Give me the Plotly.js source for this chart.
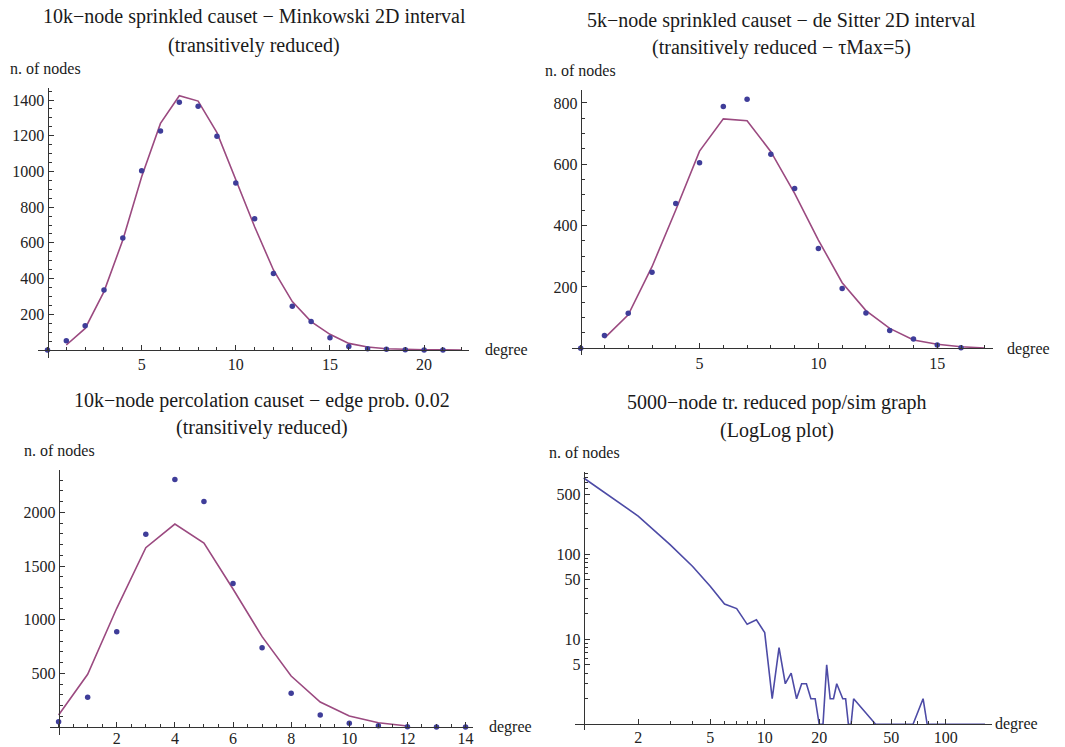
<!DOCTYPE html>
<html>
<head>
<meta charset="utf-8">
<script src="https://cdn.plot.ly/plotly-3.0.1.min.js"></script>
<style>html,body{margin:0;padding:0;background:#fff;}#chart{width:1065px;height:747px;}</style>
</head>
<body>
<div id="chart"></div>
<script>
// ---------- data ----------
const minkDegree = [0,1,2,3,4,5,6,7,8,9,10,11,12,13,14,15,16,17,18,19,20,21];
const minkNodes  = [0,52,136,336,627,1004,1226,1387,1365,1197,935,735,429,245,160,69,19,7,4,1,0,0];
const minkFitDegree = [1,2,3,4,5,6,7,8,9,10,11,12,13,14,15,16,17,18,19,20,21,22];
const minkFit = [28,121,327,616,970,1269,1424,1394,1217,952,690,448,271,159,88,37,17,7,3,1,0.5,0.2];

const desitDegree = [0,1,2,3,4,5,6,7,8,9,10,11,12,13,14,15,16];
const desitNodes  = [0,42,114,248,472,605,788,812,633,521,325,195,115,58,30,11,2];
const desitFitDegree = [1,2,3,4,5,6,7,8,9,10,11,12,13,14,15,16,17];
const desitFit = [33,109,266,451,643,748,742,641,505,353,214,123,65,27,13,5,1];

const percDegree = [0,1,2,3,4,5,6,7,8,9,10,11,12,13,14];
const percNodes  = [50,276,888,1795,2307,2102,1338,739,314,112,34,12,3,1,0];
const percFitDegree = [0,1,2,3,4,5,6,7,8,9,10,11,12];
const percFit = [112,491,1106,1671,1891,1714,1286,842,475,233,102,40,9];

const popDegree = [1,2,3,4,5,6,7,8,9,10,11,12,13,14,15,16,17,18,19,20,21,22,23,24,25,27,28,29,30,31,41,66,75,79,165];
const popNodes  = [790,282,130,72,42,26,23,15,17,12,2,8,3,4,2,3,3,2,2,1,1,5,2,2,3,2,2,1,1,2,1,1,2,1,1];

const titles = [
  ["10k\u2212node sprinkled causet \u2212 Minkowski 2D interval", "(transitively reduced)"],
  ["5k\u2212node sprinkled causet \u2212 de Sitter 2D interval", "(transitively reduced \u2212 \u03c4Max=5)"],
  ["10k\u2212node percolation causet \u2212 edge prob. 0.02", "(transitively reduced)"],
  ["5000\u2212node tr. reduced pop/sim graph", "(LogLog plot)"]
];
const yLabel = "n. of nodes";
const xLabel = "degree";

// ---------- layout helpers ----------
const W = 1065, H = 747;
const FONT = "Liberation Serif, Times New Roman, serif";
const DOT = "#3f3d99", FIT = "#9b4a80", AX = "#333333";

function seq(a, b, s) { const r = []; for (let v = a; v <= b + 1e-9; v += s) r.push(+v.toFixed(6)); return r; }

const panels = [
  {ox:47.5, oy:350, sx:18.83, sy:250/1400, xr:[-0.5,22.4], yr:[-45,1470],
   xt:[5,10,15,20], xm:seq(0,22,1), yt:seq(200,1400,200), ym:seq(0,1450,50), type:'linear',
   t1:[254,17], t2:[254,45.5], yl:[8,68], xl:[483,350], xso:0},
  {ox:580.7, oy:348.3, sx:23.77, sy:0.3067, xr:[-0.37,17.35], yr:[-22,842],
   xt:[5,10,15], xm:seq(0,17,1), yt:[200,400,600,800], ym:seq(0,800,50), type:'linear',
   t1:[781.7,20], t2:[781.7,47.5], yl:[543,71], xl:[1005,349], xso:0},
  {ox:58.6, oy:727, sx:29.07, sy:0.10733, xr:[-0.3,14.27], yr:[-75,2394],
   xt:[2,4,6,8,10,12,14], xm:seq(0,14,0.5), yt:[500,1000,1500,2000], ym:seq(0,2300,100), type:'linear',
   t1:[262,400], t2:[262,427], yl:[22,451], xl:[487,727], xso:-3},
  {ox:583.7, oy:724.3, sx:181, sy:85, xr:[-0.048,2.254], yr:[-0.067,2.97],
   xt:[2,5,10,20,50,100], xm:[3,4,6,7,8,9,30,40,60,70,80,90],
   yt:[5,10,50,100,500], ym:[2,3,4,6,7,8,9,20,30,40,60,70,80,90,200,300,400,600,700,800,900], type:'log',
   t1:[777,402.5], t2:[777,430], yl:[547,452.5], xl:[993,724], xso:-2}
];

const layout = {
  width: W, height: H, autosize: false,
  margin: {l:0, r:0, t:0, b:0, pad:0},
  paper_bgcolor: '#ffffff', plot_bgcolor: 'rgba(0,0,0,0)',
  showlegend: false, annotations: [], font: {family: FONT, color: '#222'}
};

panels.forEach((p, i) => {
  const n = i === 0 ? '' : String(i + 1);
  const xd = [(p.ox + p.xr[0]*p.sx)/W, (p.ox + p.xr[1]*p.sx)/W];
  const yd = [1 - (p.oy - p.yr[0]*p.sy)/H, 1 - (p.oy - p.yr[1]*p.sy)/H];
  const common = {
    showgrid:false, zeroline:false, showline:true, linecolor:AX, linewidth:1.1,
    ticks:'inside', ticklen:5, tickwidth:1, tickcolor:AX,
    tickfont:{family:FONT, size:16, color:'#222'}, anchor:'free', fixedrange:true,
    minor:{tickmode:'array', ticks:'inside', ticklen:3, tickwidth:1, tickcolor:AX, showgrid:false}
  };
  layout['xaxis' + n] = Object.assign({}, common, {
    type: p.type, range: p.xr, domain: xd, position: 1 - p.oy/H,
    tickmode:'array', tickvals:p.xt, ticktext:p.xt.map(String), ticklabelstandoff: p.xso,
    minor: Object.assign({}, common.minor, {tickvals:p.xm})
  });
  layout['yaxis' + n] = Object.assign({}, common, {
    type: p.type, range: p.yr, domain: yd, position: p.ox/W,
    tickmode:'array', tickvals:p.yt, ticktext:p.yt.map(String),
    minor: Object.assign({}, common.minor, {tickvals:p.ym})
  });
  const ann = (txt, x, y, size, xanchor) => ({
    text: txt, xref:'paper', yref:'paper', x: x/W, y: 1 - y/H,
    xanchor: xanchor, yanchor:'middle', showarrow:false,
    font:{family:FONT, size:size, color:'#1a1a1a'}
  });
  layout.annotations.push(ann(titles[i][0], p.t1[0], p.t1[1], 20, 'center'));
  layout.annotations.push(ann(titles[i][1], p.t2[0], p.t2[1], 20, 'center'));
  layout.annotations.push(ann(yLabel, p.yl[0], p.yl[1], 16, 'left'));
  layout.annotations.push(ann(xLabel, p.xl[0], p.xl[1], 16, 'left'));
});

function fitTrace(x, y, ax) {
  return {x, y, xaxis:'x'+ax, yaxis:'y'+ax, type:'scatter', mode:'lines',
          line:{color:FIT, width:1.6}, cliponaxis:false, hoverinfo:'skip'};
}
function dotTrace(x, y, ax) {
  return {x, y, xaxis:'x'+ax, yaxis:'y'+ax, type:'scatter', mode:'markers',
          marker:{color:DOT, size:5.5}, cliponaxis:false, hoverinfo:'skip'};
}

const data = [
  fitTrace(minkFitDegree, minkFit, ''), dotTrace(minkDegree, minkNodes, ''),
  fitTrace(desitFitDegree, desitFit, '2'), dotTrace(desitDegree, desitNodes, '2'),
  fitTrace(percFitDegree, percFit, '3'), dotTrace(percDegree, percNodes, '3'),
  {x: popDegree, y: popNodes, xaxis:'x4', yaxis:'y4', type:'scatter', mode:'lines',
   line:{color:'#4d4ba6', width:1.6}, cliponaxis:false, hoverinfo:'skip'}
];

Plotly.newPlot('chart', data, layout, {staticPlot:true, displayModeBar:false});
</script>
</body>
</html>
